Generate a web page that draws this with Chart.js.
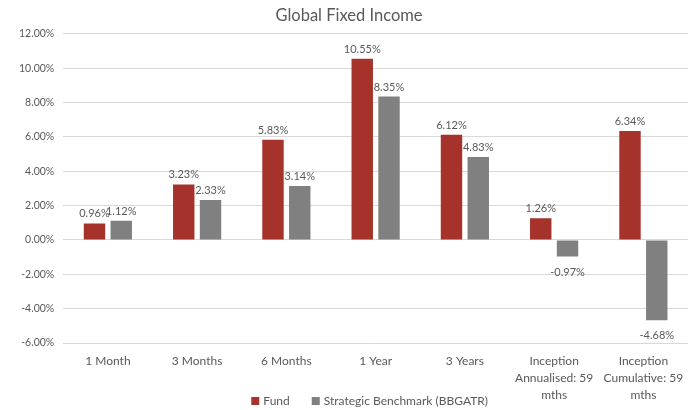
<!DOCTYPE html>
<html><head><meta charset="utf-8">
<script src="https://cdn.jsdelivr.net/npm/chart.js@4/dist/chart.umd.min.js"></script>
<style>html,body{margin:0;padding:0;background:#fff}#wrap{width:696px;height:410px}</style>
</head><body><div id="wrap"><canvas id="c" width="696" height="410"></canvas></div>
<script>
const categories = ["1 Month","3 Months","6 Months","1 Year","3 Years",["Inception","Annualised: 59","mths"],["Inception","Cumulative: 59","mths"]];
const fundValues = [0.96,3.23,5.83,10.55,6.12,1.26,6.34];
const benchmarkValues = [1.12,2.33,3.14,8.35,4.83,-0.97,-4.68];
const yTicks = [-6,-4,-2,0,2,4,6,8,10,12];
const FONT = "Lato, sans-serif";
const TXT = '#595959';

const labelPlugin = {
  id:'labels',
  afterDatasetsDraw(chart){
    const ctx = chart.ctx;
    ctx.save();
    ctx.font = '11px ' + FONT;
    ctx.fillStyle = TXT;
    ctx.textAlign = 'center';
    chart.data.datasets.forEach((ds,di)=>{
      const meta = chart.getDatasetMeta(di);
      meta.data.forEach((bar,i)=>{
        const v = ds.data[i];
        const t = v.toFixed(2)+'%';
        if (v >= 0){ ctx.textBaseline='bottom'; ctx.fillText(t, bar.x, bar.y-4); }
        else { ctx.textBaseline='top'; ctx.fillText(t, bar.x, bar.y+10); }
      });
    });
    ctx.restore();
  }
};

const legendPlugin = {
  id:'customLegend',
  afterDraw(chart){
    const ctx = chart.ctx;
    ctx.save();
    ctx.font = '12px ' + FONT;
    ctx.textBaseline = 'middle';
    ctx.textAlign = 'left';
    const box = 8, gap = 4, itemGap = 22;
    const items = chart.data.datasets.map(d=>({t:d.label,c:d.backgroundColor,w:box+gap+ctx.measureText(d.label).width}));
    const total = items.reduce((s,it)=>s+it.w,0) + itemGap*(items.length-1);
    let x = (chart.chartArea.left+chart.chartArea.right)/2 - total/2 - 6;
    const y = 401;
    items.forEach(it=>{
      ctx.fillStyle = it.c;
      ctx.fillRect(x, y-box/2, box, box);
      ctx.fillStyle = TXT;
      ctx.fillText(it.t, x+box+gap, y);
      x += it.w + itemGap;
    });
    ctx.restore();
  }
};

new Chart(document.getElementById('c'),{
  type:'bar',
  data:{labels:categories,datasets:[
    {label:'Fund',data:fundValues,backgroundColor:'#A5332C',categoryPercentage:0.6,barPercentage:0.8},
    {label:'Strategic Benchmark (BBGATR)',data:benchmarkValues,backgroundColor:'#808080',categoryPercentage:0.6,barPercentage:0.8}
  ]},
  options:{
    responsive:false,animation:false,
    layout:{padding:{left:10,right:8,top:0,bottom:4}},
    plugins:{
      title:{display:true,text:'Global Fixed Income',color:TXT,font:{family:FONT,size:16.5,weight:'normal'},padding:{top:6,bottom:8}},
      legend:{display:false},
      tooltip:{enabled:false}
    },
    scales:{
      x:{grid:{display:false},border:{display:false},ticks:{color:TXT,font:{family:FONT,size:12,lineHeight:'17px'},maxRotation:0,autoSkip:false,padding:2}},
      y:{min:-6,max:12,afterBuildTicks(a){a.ticks=yTicks.map(v=>({value:v}));},
         grid:{color:'#d9d9d9',drawTicks:false},border:{display:false},
         ticks:{color:TXT,font:{family:FONT,size:10.5},padding:9,callback:v=>v.toFixed(2)+'%'}}
    }
  },
  plugins:[labelPlugin,legendPlugin]
});
</script></body></html>
